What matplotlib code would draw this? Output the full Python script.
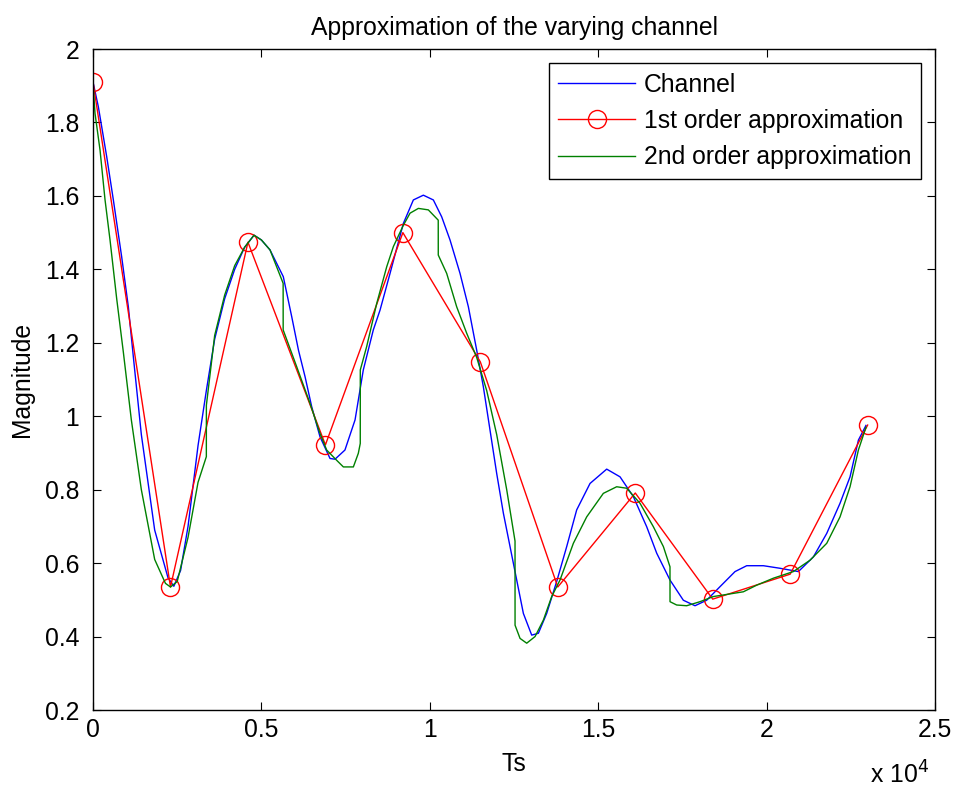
"""Approximation of the varying channel (MATLAB-style figure)."""

import matplotlib
matplotlib.use("Agg")
import matplotlib.pyplot as plt

plt.rcParams["font.family"] = ["Liberation Sans", "DejaVu Sans"]

# channel (sample index, magnitude)
ch_x = [0, 158, 406, 604, 851, 1049, 1197, 1435, 1831, 2227, 2400, 2600, 2821,
        3118, 3365, 3612, 3909, 4206, 4500, 4780, 5000, 5255, 5650, 5900, 6100,
        6295, 6493, 6740, 7037, 7185, 7480, 7780, 8025, 8322, 8522, 8819, 9214,
        9511, 9808, 10105, 10353, 10600, 10897, 11145, 11392, 11590, 11788,
        11986, 12184, 12382, 12580, 12778, 13025, 13223, 13470, 13767, 14064,
        14361, 14757, 15252, 15648, 16044, 16440, 16737, 17131, 17527, 17874,
        18220, 18617, 19062, 19409, 19904, 20398, 20943, 21389, 21785, 22180,
        22477, 22725, 22950]
ch_y = [1.91, 1.843, 1.707, 1.589, 1.434, 1.298, 1.162, 0.95, 0.69, 0.56, 0.537,
        0.58, 0.70, 0.92, 1.07, 1.21, 1.32, 1.40, 1.46, 1.493, 1.48, 1.453, 1.38,
        1.271, 1.18, 1.108, 1.026, 0.944, 0.885, 0.883, 0.908, 0.99, 1.126,
        1.235, 1.289, 1.389, 1.525, 1.589, 1.602, 1.589, 1.543, 1.48, 1.389,
        1.298, 1.18, 1.08, 0.962, 0.844, 0.736, 0.645, 0.554, 0.463, 0.404,
        0.409, 0.463, 0.55, 0.645, 0.745, 0.817, 0.856, 0.835, 0.781, 0.699,
        0.627, 0.554, 0.499, 0.484, 0.499, 0.536, 0.577, 0.593, 0.593, 0.586,
        0.577, 0.617, 0.681, 0.763, 0.835, 0.935, 0.975]

# 1st order approximation (one value every 2300 samples)
ap1_x = [0, 2300, 4600, 6900, 9200, 11500, 13800, 16100, 18400, 20700, 23000]
ap1_y = [1.91, 0.535, 1.474, 0.922, 1.50, 1.148, 0.535, 0.791, 0.502, 0.570, 0.976]

# 2nd order approximation (jumps at block edges)
ap2_x = [0, 59, 208, 356, 505, 703, 900, 1138, 1435, 1831, 2150, 2300, 2500,
         2821, 3118, 3365, 3366, 3612, 3909, 4206, 4500, 4780, 5000, 5255, 5645,
         5646, 6047, 6443, 6740, 6938, 7235, 7433, 7730, 7877, 7935, 7936, 8126,
         8423, 8720, 8918, 9214, 9413, 9660, 9956, 10250, 10251, 10501, 10798,
         11095, 11392, 11689, 11986, 12283, 12530, 12531, 12679, 12877, 13124,
         13372, 13619, 13866, 14262, 14658, 15152, 15548, 15845, 16241, 16638,
         16935, 17131, 17132, 17329, 17626, 18022, 18418, 19310, 19706, 20201,
         20794, 21290, 21785, 22180, 22477, 22725, 22950]
ap2_y = [1.907, 1.825, 1.725, 1.59, 1.48, 1.32, 1.175, 0.99, 0.80, 0.61, 0.545,
         0.535, 0.55, 0.67, 0.82, 0.89, 1.03, 1.22, 1.33, 1.41, 1.46, 1.493, 1.48,
         1.453, 1.362, 1.235, 1.135, 1.035, 0.953, 0.908, 0.88, 0.862, 0.862,
         0.899, 0.926, 1.126, 1.19, 1.307, 1.407, 1.462, 1.52, 1.553, 1.566,
         1.562, 1.534, 1.439, 1.389, 1.298, 1.226, 1.16, 1.07, 0.95, 0.80, 0.66,
         0.431, 0.395, 0.382, 0.40, 0.445, 0.509, 0.554, 0.654, 0.726, 0.79,
         0.808, 0.804, 0.763, 0.699, 0.645, 0.59, 0.495, 0.486, 0.484, 0.495,
         0.509, 0.522, 0.54, 0.559, 0.577, 0.608, 0.654, 0.726, 0.808, 0.908,
         0.97]

xticks = [0, 5000, 10000, 15000, 20000, 25000]
xtick_labels = ["0", "0.5", "1", "1.5", "2", "2.5"]
yticks = [0.2, 0.4, 0.6, 0.8, 1, 1.2, 1.4, 1.6, 1.8, 2]
ytick_labels = ["0.2", "0.4", "0.6", "0.8", "1", "1.2", "1.4", "1.6", "1.8", "2"]

fs = 17.8

fig = plt.figure(figsize=(9.54, 7.92), dpi=100)
ax = fig.add_axes([0.0975, 0.1035, 0.8826, 0.8346])

ax.plot(ch_x, ch_y, color=(0, 0, 1), lw=1.0, label="Channel")
ax.plot(ap1_x, ap1_y, "-o", color=(1, 0, 0), lw=1.0, ms=13, mfc="none",
        mew=1.0, label="1st order approximation")
ax.plot(ap2_x, ap2_y, color=(0, 0.5, 0), lw=1.0, label="2nd order approximation")

ax.set_xlim(0, 25000)
ax.set_ylim(0.2, 2)
ax.set_xticks(xticks)
ax.set_xticklabels(xtick_labels)
ax.set_yticks(yticks)
ax.set_yticklabels(ytick_labels)
ax.tick_params(direction="in", length=6, width=0.8, top=True, right=True,
               labelsize=fs)
ax.tick_params(axis="x", pad=6)
ax.tick_params(axis="y", pad=10)
for s in ax.spines.values():
    s.set_linewidth(1.0)

ax.set_title("Approximation of the varying channel", fontsize=fs, pad=10)
ax.set_xlabel("Ts", fontsize=fs, labelpad=7)
ax.set_ylabel("Magnitude", fontsize=fs, labelpad=8)
fig.text(0.912, 0.011, r"x 10$^4$", fontsize=fs, ha="left", va="baseline")

leg = ax.legend(loc="upper right", fontsize=fs, fancybox=False, framealpha=1,
                edgecolor="black", handlelength=3.1, handletextpad=0.36,
                labelspacing=0.5, borderaxespad=0.55, borderpad=0.4)
leg.get_frame().set_linewidth(1.0)

fig.savefig("out.png", dpi=100)
